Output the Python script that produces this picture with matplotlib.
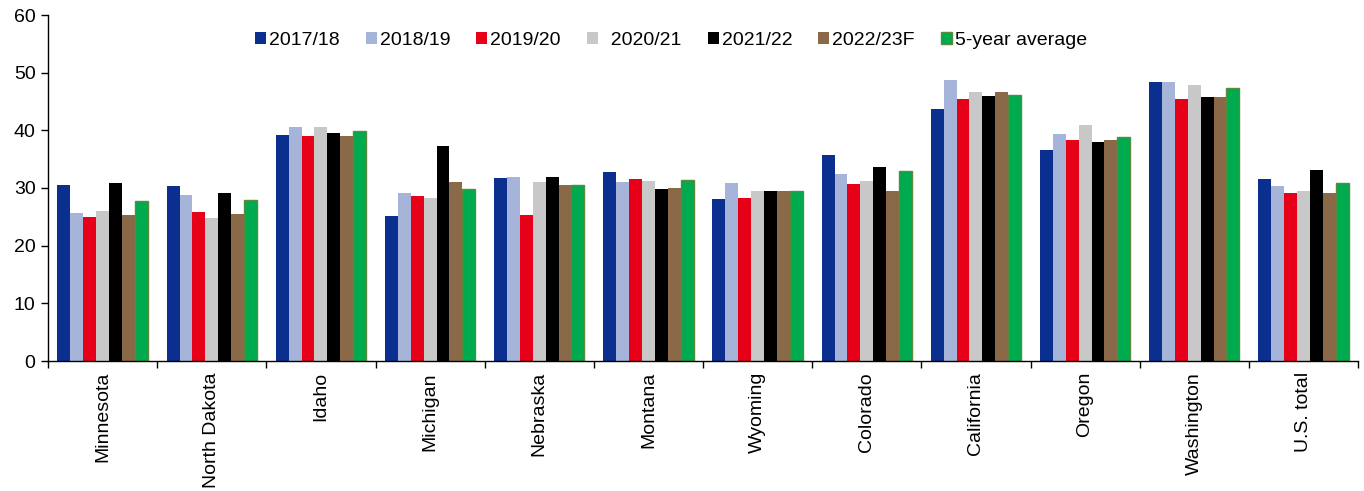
import matplotlib
matplotlib.use("Agg")
import matplotlib.pyplot as plt
import numpy as np

plt.rcParams['font.family'] = ['Liberation Sans', 'DejaVu Sans']

categories = ["Minnesota", "North Dakota", "Idaho", "Michigan", "Nebraska", "Montana",
              "Wyoming", "Colorado", "California", "Oregon", "Washington", "U.S. total"]
series_names = ["2017/18", "2018/19", "2019/20", "  2020/21", "2021/22", "2022/23F", "5-year average"]
v2017 = [30.5, 30.3, 39.2, 25.1, 31.7, 32.7, 28.1, 35.7, 43.7, 36.6, 48.3, 31.6]
v2018 = [25.7, 28.7, 40.5, 29.1, 31.9, 31.0, 30.8, 32.5, 48.8, 39.4, 48.3, 30.3]
v2019 = [24.9, 25.9, 39.0, 28.6, 25.4, 31.5, 28.3, 30.7, 45.4, 38.4, 45.4, 29.1]
v2020 = [26.0, 24.8, 40.5, 28.3, 31.0, 31.3, 29.5, 31.3, 46.6, 40.9, 47.8, 29.4]
v2021 = [30.9, 29.1, 39.5, 37.3, 31.9, 29.8, 29.4, 33.6, 46.0, 37.9, 45.8, 33.1]
v2022 = [25.4, 25.5, 39.0, 31.0, 30.5, 30.0, 29.4, 29.5, 46.7, 38.4, 45.8, 29.1]
vavg = [27.8, 28.0, 39.8, 29.8, 30.5, 31.4, 29.4, 32.9, 46.2, 38.8, 47.3, 30.9]
series = [v2017, v2018, v2019, v2020, v2021, v2022, vavg]
colors = ["#0a2f8f", "#a6b4d9", "#e60018", "#c8c8c8", "#000000", "#8a6949", "#00aa4f"]

fig = plt.figure(figsize=(13.64, 4.91), dpi=100)
ax = fig.add_axes([48/1364, 1-361/491, (1358-48)/1364, (361-15)/491])

n = len(series)
bw = 0.118
x = np.arange(len(categories))
for i, (vals, c, name) in enumerate(zip(series, colors, series_names)):
    offs = (i - (n - 1) / 2) * bw
    if i == n - 1:
        ax.bar(x + offs, vals, bw, color=c, edgecolor="#5b8a3c", linewidth=1.0, label=name)
    else:
        ax.bar(x + offs, vals, bw, color=c, edgecolor="none", label=name)

ax.set_xlim(-0.5, len(categories) - 0.5)
ax.set_ylim(0, 60)
ax.set_yticks(range(0, 61, 10))
ax.set_xticks(x)
ax.set_xticklabels(categories, rotation=90, fontsize=14)
ax.set_xticks(np.arange(-0.5, len(categories)), minor=True)
ax.tick_params(axis='x', which='major', length=0, pad=8)
ax.tick_params(axis='x', which='minor', length=5, width=1, direction='out')
ax.tick_params(axis='y', labelsize=14, length=5, width=1, direction='out', pad=4)
for s in ['top', 'right']:
    ax.spines[s].set_visible(False)
ax.spines['left'].set_linewidth(1)
ax.spines['bottom'].set_linewidth(1)

leg = ax.legend(loc='upper center', bbox_to_anchor=(0.4756, 1.002), ncol=7, frameon=False,
                fontsize=14, handlelength=0.56, handleheight=0.56, handletextpad=0.15,
                columnspacing=1.34)

fig.savefig("out.png", dpi=100)
